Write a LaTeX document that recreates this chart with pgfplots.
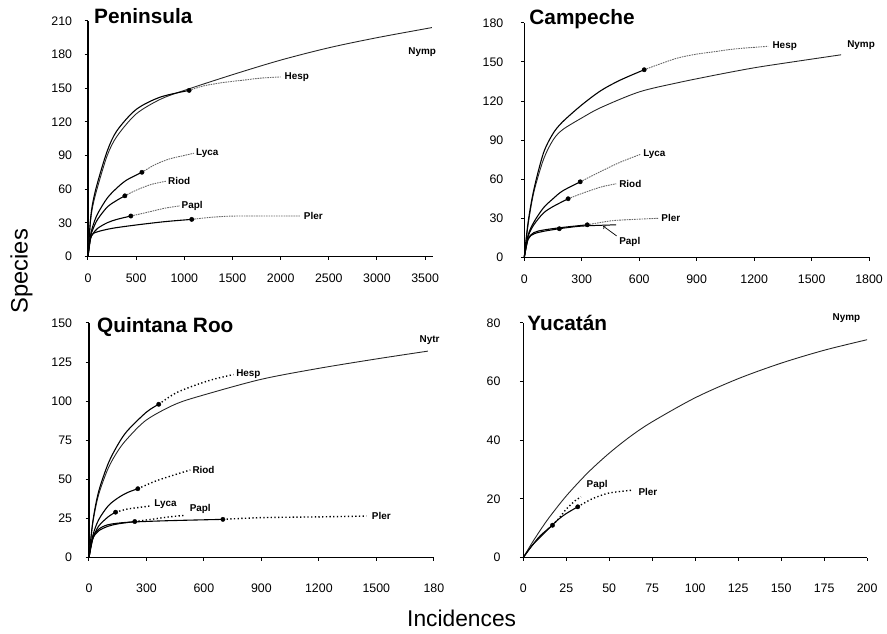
\documentclass[border=0pt]{standalone}
\usepackage{pgfplots}
\pgfplotsset{compat=1.18}
\usepackage{fontspec}
\setmainfont{Liberation Sans}
\begin{document}
\pgfplotsset{
  panel/.style={
    scale only axis, anchor=origin,
    width=345bp, height=236bp,
    axis lines*=left, tick align=outside, major tick length=3.5bp,
    xmin=0, ymin=0, clip=false,
    axis line style={line width=1.2bp, black},
    every tick/.style={black, line width=1bp},
    ticklabel style={font=\fontsize{12.5}{14}\selectfont},
    xticklabel style={text height=9bp, text depth=0bp},
    /pgf/number format/assume math mode=true,
    /pgf/number format/1000 sep={},
    scaled ticks=false,
  },
}
\tikzset{
  sol/.style={black, line width=1.1bp, smooth, no marks},
  nym/.style={black!85, line width=0.9bp, smooth, no marks},
  extA/.style={black!60, line width=0.9bp, dash pattern=on 1.6bp off 0.9bp, smooth, no marks},
  extB/.style={black, line width=1.4bp, dash pattern=on 1.3bp off 2.4bp, smooth, no marks},
  dot/.style={only marks, mark=*, mark size=2.2bp, black},
  lab/.style={font=\fontsize{10}{11}\selectfont\bfseries, inner sep=1bp},
}
\begin{tikzpicture}
\path[use as bounding box] (0bp,0bp) rectangle (887bp,637bp);
% ---------------- Peninsula
\begin{axis}[panel, at={(83bp,379bp)}, width=347bp, height=237bp,
  xmax=3580, ymax=210, xtick={0,500,...,3500}, ytick={0,30,...,210},
  xticklabel style={yshift=-10bp}, yticklabel style={xshift=-9bp}]
\addplot[nym] coordinates {(0,0)(25,30)(50,45)(100,62)(200,90)(300,107)(500,127)(750,140)(1000,148)(1500,162)(2000,175)(2500,186)(3000,195)(3570,204)};
\addplot[sol] coordinates {(0,0)(25,32)(50,48)(100,66)(200,94)(300,112)(500,131)(750,142)(1050,148)};
\addplot[extA] coordinates {(1050,148)(1200,152)(1400,155)(1600,157)(1800,159)(2000,160)};
\addplot[dot] coordinates {(1050,148)};
\addplot[sol] coordinates {(0,0)(25,18)(50,27)(100,38)(200,52)(300,61)(400,68)(560,75)};
\addplot[extA] coordinates {(560,75)(700,82)(850,87)(1000,90)(1100,92)};
\addplot[dot] coordinates {(560,75)};
\addplot[sol] coordinates {(0,0)(25,17)(50,24)(100,33)(200,44)(300,50)(383,54)};
\addplot[extA] coordinates {(383,54)(500,59)(650,64)(808,67)};
\addplot[dot] coordinates {(383,54)};
\addplot[sol] coordinates {(0,0)(25,15)(50,20)(100,25)(200,30)(300,33)(445,36)};
\addplot[extA] coordinates {(445,36)(600,39)(800,43)(953,45)};
\addplot[dot] coordinates {(445,36)};
\addplot[sol] coordinates {(0,0)(25,16)(50,20)(100,22)(250,25)(500,28)(800,31)(1077,33)};
\addplot[extA] coordinates {(1077,33)(1300,35)(1550,36)(2200,36)};
\addplot[dot] coordinates {(1077,33)};
\node[lab] at (axis cs:3470,182) {Nymp};
\node[lab,anchor=west] at (axis cs:2030,160) {Hesp};
\node[lab,anchor=west] at (axis cs:1110,92) {Lyca};
\node[lab,anchor=west] at (axis cs:820,67) {Riod};
\node[lab,anchor=west] at (axis cs:960,45) {Papl};
\node[lab,anchor=west] at (axis cs:2230,36) {Pler};
\end{axis}
% ---------------- Campeche
\begin{axis}[panel, at={(522bp,378bp)}, width=347bp,
  xmax=1800, ymax=180, xtick={0,300,...,1800}, ytick={0,30,...,180},
  xticklabel style={yshift=-10bp}, yticklabel style={xshift=-14bp}]
\addplot[nym] coordinates {(0,0)(20,25)(50,50)(100,75)(150,90)(200,98)(300,107)(400,115)(600,127)(800,134)(1000,140)(1200,145.5)(1400,150)(1654,155.5)};
\addplot[sol] coordinates {(0,0)(20,27)(50,52)(100,80)(150,95)(200,104)(300,117)(400,128)(500,136)(626,144)};
\addplot[extA] coordinates {(626,144)(700,148)(800,153)(900,156)(1000,158)(1100,160)(1273,162)};
\addplot[dot] coordinates {(626,144)};
\addplot[sol] coordinates {(0,0)(20,17)(50,27)(100,38)(150,45)(200,51)(292,58)};
\addplot[extA] coordinates {(292,58)(400,66)(500,73)(605,79)};
\addplot[dot] coordinates {(292,58)};
\addplot[sol] coordinates {(0,0)(20,16)(50,25)(100,34)(150,39)(229,45)};
\addplot[extA] coordinates {(229,45)(300,49)(400,54)(480,56.5)};
\addplot[dot] coordinates {(229,45)};
\addplot[sol] coordinates {(0,0)(20,14)(50,19)(100,21)(200,23)(329,25)};
\addplot[extA] coordinates {(329,25)(450,28)(550,29)(700,30)};
\addplot[dot] coordinates {(329,25)};
\addplot[sol] coordinates {(0,0)(20,14)(50,18)(100,20)(183,22)};
\addplot[sol, line width=1bp] coordinates {(183,22)(300,24)(480,25)};
\addplot[dot] coordinates {(183,22)};
\draw[->, line width=0.7bp] (axis cs:482,16.5) -- (axis cs:412,24);
\node[lab] at (axis cs:1758,163) {Nymp};
\node[lab,anchor=west] at (axis cs:1290,162) {Hesp};
\node[lab,anchor=west] at (axis cs:615,79) {Lyca};
\node[lab,anchor=west] at (axis cs:490,56) {Riod};
\node[lab,anchor=west] at (axis cs:710,30) {Pler};
\node[lab] at (axis cs:551,12) {Papl};
\end{axis}
% ---------------- Quintana Roo
\begin{axis}[panel, at={(84bp,76bp)}, width=347bp,
  xmax=1800, ymax=150, xtick={0,300,...,1800}, ytick={0,25,...,150},
  xticklabels={0,300,600,900,1200,1500,180},
  xticklabel style={yshift=-19bp}, yticklabel style={xshift=-10bp}]
\addplot[nym] coordinates {(0,0)(20,22)(50,40)(100,57)(150,68)(200,76)(300,88)(450,98)(600,104)(900,114)(1200,121)(1500,127)(1769,132)};
\addplot[sol] coordinates {(0,0)(20,23)(50,42)(100,60)(150,72)(200,81)(300,93)(364,98)};
\addplot[extB] coordinates {(364,98)(450,105)(550,110)(650,114)(754,117)};
\addplot[dot] coordinates {(364,98)};
\addplot[sol] coordinates {(0,0)(20,14)(50,24)(100,33)(150,38)(200,41.5)(255,44)};
\addplot[extB] coordinates {(255,44)(350,49)(450,53)(529,56)};
\addplot[dot] coordinates {(255,44)};
\addplot[sol] coordinates {(0,0)(20,12)(50,20)(100,26)(139,29)};
\addplot[extB] coordinates {(139,29)(200,31)(260,32)(321,33)};
\addplot[dot] coordinates {(139,29)};
\addplot[sol] coordinates {(0,0)(20,12)(50,17)(100,20)(150,21.5)(239,23)};
\addplot[extB] coordinates {(239,23)(330,24.5)(420,26)(503,27)};
\addplot[dot] coordinates {(239,23)};
\addplot[sol] coordinates {(0,0)(20,13)(50,18)(100,21)(200,22.5)(400,23.5)(699,24.4)};
\addplot[extB] coordinates {(699,24.4)(900,25.5)(1200,26)(1448,26.5)};
\addplot[dot] coordinates {(699,24.4)};
\node[lab] at (axis cs:1778,139) {Nytr};
\node[lab] at (axis cs:832,117.6) {Hesp};
\node[lab] at (axis cs:598,56) {Riod};
\node[lab] at (axis cs:399,34) {Lyca};
\node[lab] at (axis cs:581,31) {Papl};
\node[lab] at (axis cs:1526,26.5) {Pler};
\end{axis}
% ---------------- Yucatan
\begin{axis}[panel, at={(521bp,76bp)}, width=346bp,
  xmax=200, ymax=80, xtick={0,25,...,200}, ytick={0,20,...,80},
  xticklabel style={yshift=-19bp}, yticklabel style={xshift=-16bp}]
\addplot[nym] coordinates {(0,0)(5,4.9)(10,9.4)(15,13.6)(25,21)(37.5,28.9)(50,35.6)(62.5,41.4)(75,46.3)(100,54.5)(125,61)(150,66.3)(175,70.7)(200,74.3)};
\addplot[sol] coordinates {(0,0)(5,4)(10,7.5)(17,11)};
\addplot[extB] coordinates {(17,11)(21,13.5)(25,16.5)(30,19.3)(33.6,20.7)};
\addplot[dot] coordinates {(17,11)};
\addplot[sol] coordinates {(0,0)(5,4)(10,7)(15,10)(20,12.8)(25,15)(31.7,17.3)};
\addplot[extB] coordinates {(31.7,17.3)(40,20)(50,22)(64,23)};
\addplot[dot] coordinates {(31.7,17.3)};
\node[lab] at (axis cs:188,81.5) {Nymp};
\node[lab] at (axis cs:43,24.6) {Papl};
\node[lab] at (axis cs:72.5,22.4) {Pler};
\end{axis}
% ---------------- titles and axis labels
\node[anchor=base west, font=\fontsize{21}{24}\selectfont\bfseries, inner sep=0] at (89bp,613bp) {Peninsula};
\node[anchor=base west, font=\fontsize{21}{24}\selectfont\bfseries, inner sep=0] at (527bp,612bp) {Campeche};
\node[anchor=base west, font=\fontsize{21}{24}\selectfont\bfseries, inner sep=0] at (92bp,302bp) {Quintana Roo};
\node[anchor=base west, font=\fontsize{21}{24}\selectfont\bfseries, inner sep=0] at (525bp,304bp) {Yucatán};
\node[rotate=90, font=\fontsize{24}{26}\selectfont] at (16bp,364bp) {Species};
\node[font=\fontsize{23}{25}\selectfont] at (459bp,15bp) {Incidences};
\end{tikzpicture}
\end{document}
